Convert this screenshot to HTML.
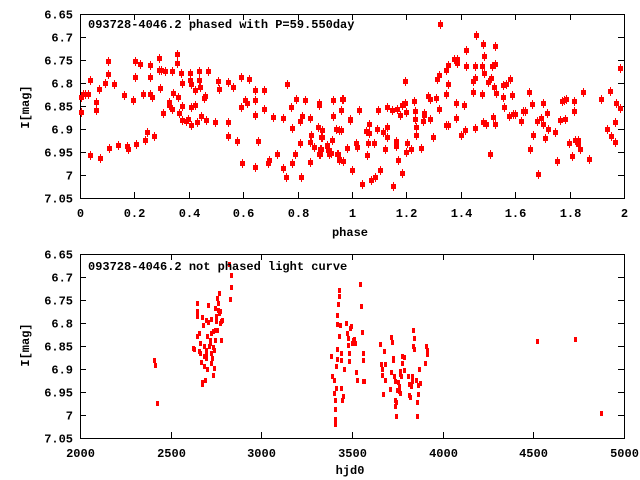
<!DOCTYPE html>
<html><head><meta charset="utf-8"><style>
html,body{margin:0;padding:0;background:#fff;width:640px;height:480px;overflow:hidden}
text{font-family:"Liberation Mono",monospace;font-weight:bold;font-size:12px;fill:#000}
</style></head><body>
<svg id="s" width="640" height="480" xmlns="http://www.w3.org/2000/svg">
<g id="g"></g>
<text x="88" y="28">093728-4046.2 phased with P=59.550day</text>
<text x="88" y="270">093728-4046.2 not phased light curve</text>
<text x="350" y="236" text-anchor="middle">phase</text>
<text x="350" y="474" text-anchor="middle">hjd0</text>
<text transform="translate(29,107) rotate(-90)" text-anchor="middle">I[mag]</text>
<text transform="translate(29,345) rotate(-90)" text-anchor="middle">I[mag]</text>
</svg>
<script>
(function(){
var NS="http://www.w3.org/2000/svg",g=document.getElementById('g');
function el(t,a,txt){var e=document.createElementNS(NS,t);for(var k in a)e.setAttribute(k,a[k]);if(txt)e.textContent=txt;g.appendChild(e);return e;}
var L=80,R=624;
function axes(y0,y1,xl,yl){
 el('rect',{x:L+.5,y:y0+.5,width:R-L,height:y1-y0,fill:'none',stroke:'#000','stroke-width':1});
 for(var i=0;i<yl.length;i++){var y=Math.round(y0+(y1-y0)*i/(yl.length-1))+.5;
  el('line',{x1:L,x2:L+6,y1:y,y2:y,stroke:'#000'});el('line',{x1:R-6,x2:R,y1:y,y2:y,stroke:'#000'});
  el('text',{x:73,y:y+4,'text-anchor':'end'},yl[i]);}
 for(var i=0;i<xl.length;i++){var x=Math.round(L+(R-L)*i/(xl.length-1))+.5;
  el('line',{x1:x,x2:x,y1:y1,y2:y1-6,stroke:'#000'});el('line',{x1:x,x2:x,y1:y0,y2:y0+6,stroke:'#000'});
  el('text',{x:x,y:y1+19,'text-anchor':'middle'},xl[i]);}
}
var yl=['6.65','6.7','6.75','6.8','6.85','6.9','6.95','7','7.05'];
axes(14,198,['0','0.2','0.4','0.6','0.8','1','1.2','1.4','1.6','1.8','2'],yl);
axes(254,438,['2000','2500','3000','3500','4000','4500','5000'],yl);
var z1=[244,290,244,337,250,283,256,283,265,283,270,241,270,466,289,329,289,306,297,268,301,474,315,250,325,184,325,223,328,445,343,253,355,436,373,286,382,439,385,447,400,301,405,184,405,230,408,433,420,192,428,283,436,420,440,396,449,196,451,230,451,283,455,292,463,408,476,175,476,211,480,265,482,211,490,339,494,214,508,306,508,316,517,328,517,214,520,280,530,190,531,161,534,292,537,339,543,220,545,319,546,250,547,360,557,362,563,358,571,219,572,322,571,240,574,252,574,375,586,270,586,315,590,365,598,214,598,240,600,262,603,347,613,293,615,288,617,360,625,214,644,366,655,243,658,268,683,246,684,365,685,409,699,262,712,424,723,232,724,322,725,489,735,300,740,310,747,236,766,270,766,301,766,345,766,502,775,422,793,270,793,328,805,488,808,481,820,352,832,462,848,353,850,504,857,532,862,253,875,489,874,322,875,385,886,463,889,298,901,364,901,428,903,530,906,349,916,300,930,426,931,353,931,485,934,406,941,442,953,381,956,462,958,310,958,316,962,447,963,411,982,437,985,451,987,461,997,420,1000,347,1000,300,1009,387,1013,461,1016,389,1016,476,1024,330,1026,298,1024,391,1030,484,1042,445,1050,359];
var z2=[5,390,5,412,0,447,0,462,22,436,26,449,32,460,35,421,40,301,40,348,47,388,52,461,58,479,64,331,63,390,68,298,70,484,82,445,91,358,97,511,109,428,112,441,127,553,118,331,137,394,140,466,145,430,148,373,148,400,154,541,162,430,166,531,172,388,175,331,181,511,190,397,196,448,202,380,202,412,202,322,216,331,220,559,229,422,229,439,230,327,235,480,241,346,247,314,247,520,256,308,256,244,259,337,259,455,262,430,274,447,283,304,286,356,286,334,287,406,289,382,304,445,310,364,311,339,311,346,325,289,330,298,331,356,340,412,349,295,351,237,357,328,358,226,379,211,379,283,379,376,385,196,385,376,385,253,402,178,409,310,409,355,410,190,412,176,424,406,433,316,438,151,439,198,436,391,459,244,460,276,465,234,466,198,466,385,468,106,487,198,487,283,489,133,490,367,493,169,493,220,498,373,505,247,509,463,514,234,517,198,520,352,524,193,523,262,526,139,529,280,526,373,550,292,549,256,553,322,557,253,568,349,571,238,576,286,578,341,584,343,604,364,610,334,616,334,626,276,631,448,637,313,640,406,655,523,652,364,664,355,668,310,670,373,674,415,682,340,683,388,706,397,712,484,721,361,727,304,733,301,734,358,738,298,748,428,755,469,762,304,761,334,764,421,775,421,775,433,781,448,790,275,808,478,844,296,862,388,871,273,872,409,886,427,886,366,889,310,899,205,901,325,361,73];
function mk(x,y){x=Math.round(x);y=Math.round(y);
 el('line',{x1:x+.5,x2:x+.5,y1:y-4,y2:y+5,stroke:'#f00'});
 el('rect',{x:x-2,y:y-2,width:5,height:5,fill:'#f00'});}
for(var i=0;i<z1.length;i+=2)mk(z1[i]/3,z1[i+1]/3);
for(var i=0;i<z2.length;i+=2)mk(320+z2[i]/3,z2[i+1]/3);
var z3=[373,362,376,376,381,490,468,324,471,328,478,189,478,213,478,230,483,280,478,290,483,335,486,310,487,340,489,368,491,233,493,256,495,320,495,350,497,350,490,428,492,432,498,420,497,380,500,355,500,340,502,240,502,330,503,387,504,290,506,246,507,195,508,320,510,310,511,300,512,340,513,280,514,238,514,370,516,355,517,405,518,275,519,322,520,386,521,330,522,300,523,270,524,205,525,230,526,245,527,270,528,175,530,210,531,190,532,160,533,220,534,213,535,250,537,245,540,240,538,300,556,73,562,106,562,140,560,178,807,349,810,408,813,420,813,460,815,480,815,510,816,540,817,555,818,380,819,445,820,358,820,328,822,225,822,252,823,193,825,150,826,168,827,290,828,255,830,360,831,340,832,445,834,480,835,470,838,388,843,250,845,280,847,295,849,315,850,340,851,365,853,265,856,258,858,310,860,302,861,300,863,298,865,310,878,132,880,199,882,277,884,340,885,362,885,425,868,398,870,422,887,425,925,312,928,372,930,388,932,405,933,463,935,334,938,372,939,421,950,449,952,398,954,292,956,308,958,355,959,362,961,410,962,423,963,500,964,480,965,488,966,529,968,450,970,426,972,440,973,455,974,395,975,460,976,404,977,410,979,350,981,370,984,352,986,390,995,410,996,432,998,465,1000,473,1002,440,1004,410,1005,425,1007,270,1008,320,1009,328,1010,295,1015,420,1016,487,1017,530,1018,462,1020,435,1022,388,1025,430,1037,371,1040,330,1040,342,1038,320,1310,303,1403,298,1466,522];
for(var i=0;i<z3.length;i+=2){var x=Math.round(80+(z3[i]-193)/2.444),y=Math.round(254+(z3[i+1]-42)/3.01);
 el('rect',{x:x-1,y:y-2,width:3,height:5,fill:'#f00'});}
})();
</script>
</body></html>
